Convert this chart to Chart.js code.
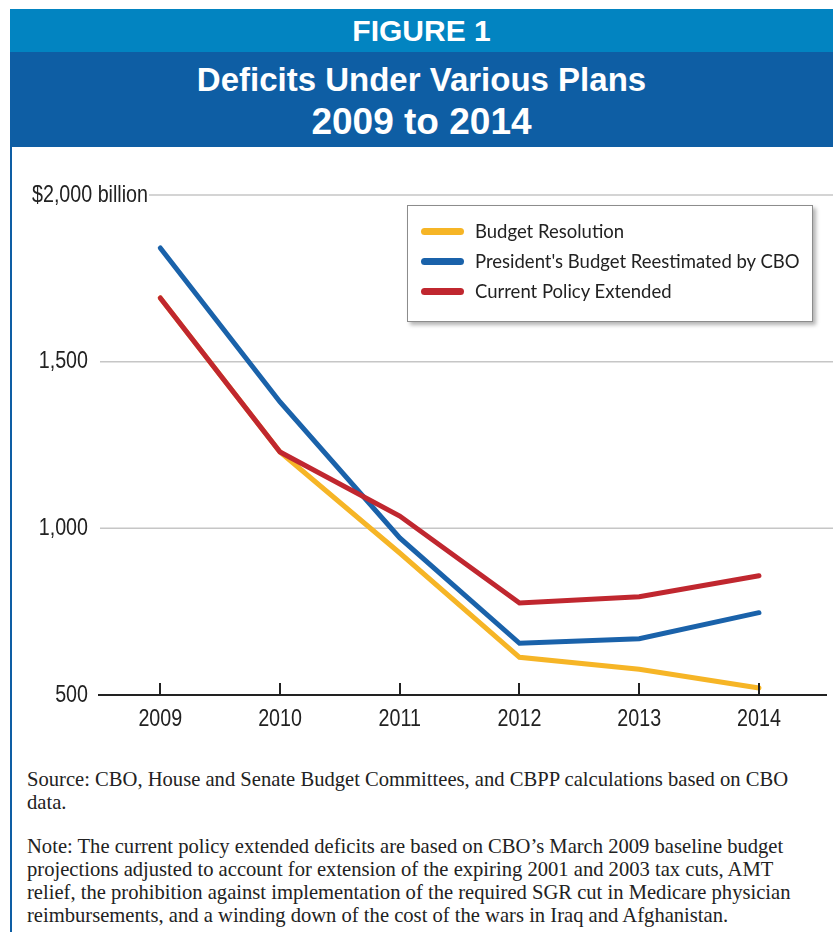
<!DOCTYPE html>
<html lang="en">
<head>
    <meta charset="UTF-8">
    <title>Deficits Under Various Plans</title>
    <style>
        body { margin: 0; width: 833px; height: 932px; background: #fff; position: relative; overflow: hidden; font-family: "Liberation Sans", Arial, sans-serif; }
        .band-top { position: absolute; left: 10px; top: 9px; width: 823px; height: 43px; background: #0284c1; color: #fff; font-weight: bold; font-size: 30px; text-align: center; line-height: 43px; }
        .band-title { position: absolute; left: 10px; top: 52px; width: 823px; height: 95px; background: #0e5ea4; color: #fff; font-weight: bold; text-align: center; }
        .band-title .l1 { position: absolute; left: 0; right: 0; top: 8px; font-size: 33px; line-height: 40px; }
        .band-title .l2 { position: absolute; left: 0; right: 0; top: 50px; font-size: 37px; line-height: 40px; }
        .left-rule { position: absolute; left: 10px; top: 147px; width: 2px; height: 785px; background: #0e5ea4; }
        .chart-wrap { position: absolute; left: 0; top: 150px; width: 833px; height: 600px; }
        .legend { position: absolute; left: 407px; top: 205px; width: 404px; height: 115px; border: 1px solid #8c8c8c; background: #fff; box-shadow: 3px 3px 4px rgba(0,0,0,0.3); font-family: Lato, "Open Sans", sans-serif; font-size: 18.5px; color: #222; }
        .legend-item { position: absolute; left: 0; height: 24px; width: 100%; }
        .legend-item .sw { position: absolute; left: 13px; top: 9px; width: 43px; height: 7px; border-radius: 4px; }
        .legend-item .tx { position: absolute; left: 67px; top: 0; line-height: 24px; white-space: nowrap; }
        .notes { position: absolute; left: 27px; top: 768px; font-family: "Liberation Serif", "Times New Roman", serif; font-size: 20.6px; line-height: 22.7px; color: #222; white-space: nowrap; }
        .notes p { margin: 0 0 22px 0; }
    </style>
</head>
<body>
    <div class="band-top">FIGURE 1</div>
    <div class="band-title">
        <div class="l1">Deficits Under Various Plans</div>
        <div class="l2">2009 to 2014</div>
    </div>
    <div class="left-rule"></div>

    <div class="chart-wrap">
        <canvas id="deficitChart" width="833" height="600"></canvas>
    </div>
    <div class="legend" id="legend"></div>

    <div class="notes">
        <p>Source: CBO, House and Senate Budget Committees, and CBPP calculations based on CBO<br>data.</p>
        <p>Note: The current policy extended deficits are based on CBO’s March 2009 baseline budget<br>projections adjusted to account for extension of the expiring 2001 and 2003 tax cuts, AMT<br>relief, the prohibition against implementation of the required SGR cut in Medicare physician<br>reimbursements, and a winding down of the cost of the wars in Iraq and Afghanistan.</p>
    </div>

    <script src="https://cdn.jsdelivr.net/npm/chart.js"></script>
    <script>
        // Data, $ billions
        const years = [2009, 2010, 2011, 2012, 2013, 2014];
        const budgetResolution = [1691, 1229, 926, 613, 577, 521];
        const presidentsBudget = [1841, 1379, 971, 655, 669, 747];
        const currentPolicy = [1691, 1229, 1037, 776, 795, 858];

        const seriesNames = ['Budget Resolution', "President's Budget Reestimated by CBO", 'Current Policy Extended'];
        const seriesColors = ['#f6b526', '#1a62aa', '#c0272f'];
        const seriesValues = [budgetResolution, presidentsBudget, currentPolicy];
        const drawOrder = [2, 1, 0];   // red on top, yellow underneath

        const yTickValues = [500, 1000, 1500, 2000];
        const yTickLabels = ['500', '1,000', '1,500', '$2,000 billion'];

        // no narrow font installed, so squeeze Liberation Sans horizontally
        const axisFont = '24px "Liberation Sans", Arial, sans-serif';
        const squeeze = 0.82;

        function narrowText(ctx, text, x, y, align) {
            const w = ctx.measureText(text).width * squeeze;
            let left = x;
            if (align === 'right') left = x - w;
            if (align === 'center') left = x - w / 2;
            ctx.save();
            ctx.translate(left, y);
            ctx.scale(squeeze, 1);
            ctx.textAlign = 'left';
            ctx.fillText(text, 0, 0);
            ctx.restore();
            return w;
        }

        const gridPlugin = {
            id: 'gridLabels',
            beforeDatasetsDraw(chart) {
                const ctx = chart.ctx;
                const y = chart.scales.y;
                const x = chart.scales.x;
                const area = chart.chartArea;
                ctx.save();
                ctx.font = axisFont;
                ctx.fillStyle = '#222';
                ctx.textBaseline = 'middle';
                yTickValues.forEach((v, i) => {
                    const py = y.getPixelForValue(v);
                    let lineStart;
                    if (i === yTickValues.length - 1) {
                        const w = narrowText(ctx, yTickLabels[i], 32, py, 'left');
                        lineStart = 32 + w + 1;
                    } else {
                        narrowText(ctx, yTickLabels[i], 88, py, 'right');
                        lineStart = area.left + 1;
                    }
                    if (v !== yTickValues[0]) {
                        ctx.strokeStyle = '#c6c6c6';
                        ctx.lineWidth = 1.5;
                        ctx.beginPath();
                        ctx.moveTo(lineStart, py);
                        ctx.lineTo(chart.width, py);
                        ctx.stroke();
                    }
                });
                // year labels under the axis
                x.ticks.forEach(t => {
                    narrowText(ctx, String(t.value), x.getPixelForValue(t.value), area.bottom + 24, 'center');
                });
                ctx.restore();
            },
            afterDatasetsDraw(chart) {
                // upward tick marks on the x axis
                const ctx = chart.ctx;
                const x = chart.scales.x;
                const bottom = chart.chartArea.bottom;
                ctx.save();
                ctx.strokeStyle = '#222';
                ctx.lineWidth = 2;
                x.ticks.forEach(t => {
                    const px = Math.round(x.getPixelForValue(t.value));
                    ctx.beginPath();
                    ctx.moveTo(px, bottom);
                    ctx.lineTo(px, bottom - 12);
                    ctx.stroke();
                });
                ctx.restore();
            }
        };

        const ctx = document.getElementById('deficitChart').getContext('2d');
        const deficitChart = new Chart(ctx, {
            type: 'line',
            data: {
                datasets: seriesNames.map((name, i) => ({
                    label: name,
                    data: years.map((yr, j) => ({ x: yr, y: seriesValues[i][j] })),
                    borderColor: seriesColors[i],
                    borderWidth: 5,
                    pointRadius: 0,
                    tension: 0,
                    borderCapStyle: 'round',
                    borderJoinStyle: 'miter',
                    order: drawOrder[i]
                }))
            },
            options: {
                responsive: false,
                animation: false,
                layout: { padding: { left: 99, right: 7, top: 45, bottom: 10 } },
                plugins: {
                    legend: { display: false },
                    tooltip: { enabled: false }
                },
                scales: {
                    x: {
                        type: 'linear',
                        min: 2008.488,
                        max: 2014.56,
                        afterBuildTicks: scale => { scale.ticks = years.map(v => ({ value: v })); },
                        afterFit: scale => { scale.height = 45; },
                        border: { display: true, color: '#222', width: 2 },
                        grid: { display: false, drawTicks: false },
                        ticks: { display: false }
                    },
                    y: {
                        display: false,
                        min: 500,
                        max: 2000
                    }
                }
            },
            plugins: [gridPlugin]
        });

        // HTML legend built from the datasets
        const legendDiv = document.getElementById('legend');
        deficitChart.data.datasets.forEach((ds, i) => {
            const item = document.createElement('div');
            item.className = 'legend-item';
            item.style.top = (13 + i * 30) + 'px';
            item.innerHTML = `<span class="sw" style="background:${ds.borderColor}"></span><span class="tx">${ds.label}</span>`;
            legendDiv.appendChild(item);
        });
    </script>
</body>
</html>
